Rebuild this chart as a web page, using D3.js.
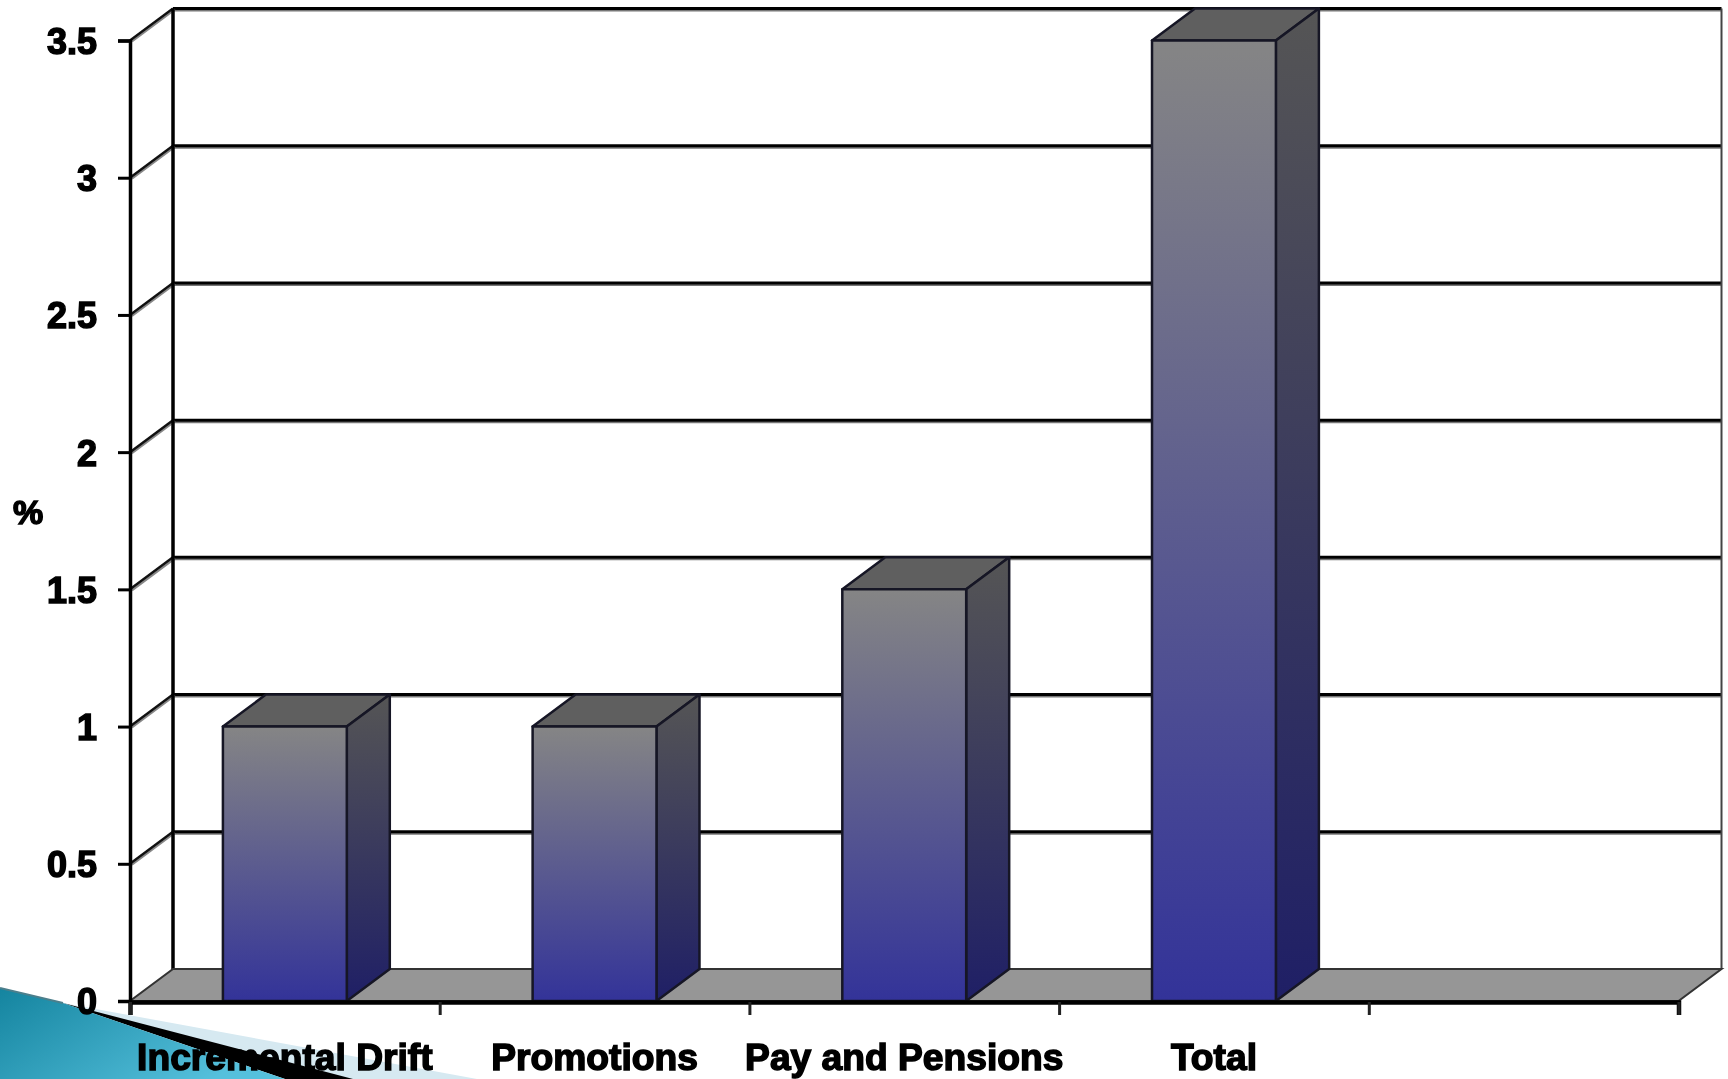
<!DOCTYPE html>
<html>
<head>
<meta charset="utf-8">
<script src="https://cdn.jsdelivr.net/npm/d3@7"></script>
<style>
  html, body { margin: 0; padding: 0; background: #fff; overflow: hidden; }
  text { font-family: "Liberation Sans", Arial, sans-serif; font-weight: bold; fill: #000; stroke: #000; stroke-width: 1.5px; }
</style>
</head>
<body>
<div id="chart-container"></div>
<script>
const categories = ["Incremental Drift", "Promotions", "Pay and Pensions", "Total", ""];
const values = [1, 1, 1.5, 3.5];
const yTicks = [0, 0.5, 1, 1.5, 2, 2.5, 3, 3.5];

const width = 1728, height = 1079;
// offset of the back wall from the front of the 3d box
const depthX = 43, depthY = 32;

// the source is an upscaled slide, so everything is a little soft
const svg = d3.select("#chart-container").append("svg")
  .attr("width", width)
  .attr("height", height)
  .style("display", "block")
  .style("filter", "blur(0.5px)");

const x = d3.scaleBand().domain(categories).range([130, 1678.5]).paddingInner(0).paddingOuter(0);
const y = d3.scaleLinear().domain([0, 3.5]).range([1001, 40.5]);
// ticks sit between the categories
const xEdge = d3.scaleLinear().domain([0, categories.length]).range(x.range());

const defs = svg.append("defs");
const frontGrad = defs.append("linearGradient").attr("id", "front").attr("x1", 0).attr("y1", 0).attr("x2", 0).attr("y2", 1);
frontGrad.append("stop").attr("offset", "0%").attr("stop-color", "#858585");
frontGrad.append("stop").attr("offset", "100%").attr("stop-color", "#333399");
const sideGrad = defs.append("linearGradient").attr("id", "side").attr("x1", 0).attr("y1", 0).attr("x2", 0).attr("y2", 1);
sideGrad.append("stop").attr("offset", "0%").attr("stop-color", "#555555");
sideGrad.append("stop").attr("offset", "100%").attr("stop-color", "#1f1f66");
const tealGrad = defs.append("linearGradient").attr("id", "teal").attr("x1", 0).attr("y1", 0).attr("x2", 1).attr("y2", 0.5);
tealGrad.append("stop").attr("offset", "0%").attr("stop-color", "#14849f");
tealGrad.append("stop").attr("offset", "100%").attr("stop-color", "#55c0dc");

// back wall gridlines and the slanted bits on the side wall
yTicks.filter(d => d > 0).forEach(d => {
  svg.append("line")
    .attr("x1", x.range()[0] + depthX).attr("x2", x.range()[1] + depthX)
    .attr("y1", y(d) - depthY + 2).attr("y2", y(d) - depthY + 2)
    .attr("stroke", "#777").attr("stroke-width", 2);
  svg.append("line")
    .attr("x1", x.range()[0] + depthX).attr("x2", x.range()[1] + depthX)
    .attr("y1", y(d) - depthY).attr("y2", y(d) - depthY)
    .attr("stroke", "#000").attr("stroke-width", 3);
  svg.append("line")
    .attr("x1", x.range()[0] + 2).attr("x2", x.range()[0] + depthX + 2)
    .attr("y1", y(d) + 1).attr("y2", y(d) - depthY + 1)
    .attr("stroke", "#888").attr("stroke-width", 2);
  svg.append("line")
    .attr("x1", x.range()[0]).attr("x2", x.range()[0] + depthX)
    .attr("y1", y(d)).attr("y2", y(d) - depthY)
    .attr("stroke", "#111").attr("stroke-width", 2.5);
});
svg.append("line")
  .attr("x1", x.range()[0] + depthX).attr("x2", x.range()[0] + depthX)
  .attr("y1", y(3.5) - depthY).attr("y2", y(0) - depthY)
  .attr("stroke", "#000").attr("stroke-width", 3.5);
svg.append("line")
  .attr("x1", x.range()[1] + depthX).attr("x2", x.range()[1] + depthX)
  .attr("y1", y(3.5) - depthY).attr("y2", y(0) - depthY)
  .attr("stroke", "#444").attr("stroke-width", 2);

// floor
const floorPts = [
  [x.range()[0], y(0)], [x.range()[1], y(0)],
  [x.range()[1] + depthX, y(0) - depthY], [x.range()[0] + depthX, y(0) - depthY]
];
svg.append("polygon")
  .attr("points", floorPts.join(" "))
  .attr("fill", "#969696").attr("stroke", "#333").attr("stroke-width", 2);

// bars
const bw = x.bandwidth() * 0.4;
const barX = d => x(d) + (x.bandwidth() - bw) / 2;
const bars = svg.selectAll(".bar")
  .data(values.map((v, i) => ({ name: categories[i], value: v })))
  .enter().append("g")
  .attr("class", "bar")
  .attr("stroke", "#161625").attr("stroke-width", 2.5).attr("stroke-linejoin", "round");

bars.append("polygon") // top
  .attr("fill", "#5f5f5f")
  .attr("points", d => [
    [barX(d.name), y(d.value)], [barX(d.name) + bw, y(d.value)],
    [barX(d.name) + bw + depthX, y(d.value) - depthY], [barX(d.name) + depthX, y(d.value) - depthY]
  ].join(" "));
bars.append("polygon") // side
  .attr("fill", "url(#side)")
  .attr("points", d => [
    [barX(d.name) + bw, y(d.value)], [barX(d.name) + bw + depthX, y(d.value) - depthY],
    [barX(d.name) + bw + depthX, y(0) - depthY], [barX(d.name) + bw, y(0)]
  ].join(" "));
bars.append("rect") // front
  .attr("fill", "url(#front)")
  .attr("x", d => barX(d.name))
  .attr("y", d => y(d.value))
  .attr("width", bw)
  .attr("height", d => y(0) - y(d.value));

// corner decoration from the slide template
svg.append("polygon").attr("points", "63,1003 477,1079 300,1079").attr("fill", "#d6e9f1");
svg.append("polygon").attr("points", "63,1003 353,1079 285,1079").attr("fill", "#000");
svg.append("polygon").attr("points", "0,988 63,1003 285,1079 0,1079").attr("fill", "url(#teal)");
svg.append("line").attr("x1", 0).attr("y1", 988).attr("x2", 63).attr("y2", 1003).attr("stroke", "#4c7f8c").attr("stroke-width", 2);

// axes
const yAxis = d3.axisLeft(y).tickValues(yTicks).tickSize(12).tickFormat(d3.format("~g"));
const gy = svg.append("g").attr("transform", `translate(${x.range()[0]},0)`).call(yAxis);
const xAxis = d3.axisBottom(xEdge).ticks(categories.length).tickSize(13).tickFormat("");
const gx = svg.append("g").attr("transform", `translate(0,${y(0) + 1})`).call(xAxis);

gy.select(".domain").attr("stroke", "#000").attr("stroke-width", 3.5);
gx.select(".domain").attr("stroke", "#000").attr("stroke-width", 4.5);
gy.selectAll(".tick line").attr("stroke", "#000").attr("stroke-width", 3);
gx.selectAll(".tick line").attr("stroke", "#222").attr("stroke-width", 3);
gy.selectAll(".tick text")
  .attr("x", -33)
  .attr("dy", "0.36em")
  .style("font-size", "36px");

// category labels
svg.selectAll(".cat")
  .data(categories)
  .enter().append("text")
  .attr("class", "cat")
  .attr("x", d => x(d) + x.bandwidth() / 2)
  .attr("y", 1070)
  .attr("text-anchor", "middle")
  .style("font-size", "37.2px")
  .text(d => d);

svg.append("text")
  .attr("x", 28)
  .attr("y", 524)
  .attr("text-anchor", "middle")
  .style("font-size", "34px")
  .text("%");
</script>
</body>
</html>
